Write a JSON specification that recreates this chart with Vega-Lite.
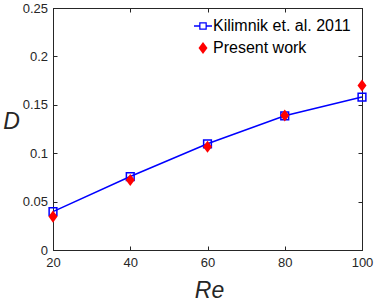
{
  "$schema": "https://vega.github.io/schema/vega-lite/v6.json",
  "autosize": {"type": "none"},
  "padding": {"left": 53, "top": 8, "right": 12, "bottom": 53},
  "width": 309,
  "height": 242,
  "background": "white",
  "data": {
    "values": [
      {"Re": 20, "D": 0.0397, "series": "Kilimnik et. al. 2011"},
      {"Re": 40, "D": 0.0759, "series": "Kilimnik et. al. 2011"},
      {"Re": 60, "D": 0.1097, "series": "Kilimnik et. al. 2011"},
      {"Re": 80, "D": 0.1386, "series": "Kilimnik et. al. 2011"},
      {"Re": 100, "D": 0.158, "series": "Kilimnik et. al. 2011"},
      {"Re": 20, "D": 0.0345, "series": "Present work"},
      {"Re": 40, "D": 0.0724, "series": "Present work"},
      {"Re": 60, "D": 0.1066, "series": "Present work"},
      {"Re": 80, "D": 0.139, "series": "Present work"},
      {"Re": 100, "D": 0.170, "series": "Present work"}
    ]
  },
  "config": {
    "view": {"stroke": "#262626", "strokeWidth": 1},
    "axis": {
      "domainColor": "#262626",
      "domainWidth": 1,
      "tickColor": "#262626",
      "tickWidth": 1,
      "grid": false,
      "labelFlush": false,
      "labelFont": "Liberation Sans",
      "labelFontSize": 13,
      "labelColor": "#262626",
      "titleFont": "Liberation Sans",
      "titleFontSize": 23,
      "titleFontStyle": "italic",
      "titleFontWeight": "normal",
      "titleColor": "#262626"
    }
  },
  "resolve": {"axis": {"x": "independent", "y": "independent"}},
  "layer": [
    {
      "transform": [{"filter": "datum.series === 'Kilimnik et. al. 2011'"}],
      "mark": {"type": "line", "color": "#0000ff", "strokeWidth": 1.5},
      "encoding": {
        "x": {
          "field": "Re", "type": "quantitative",
          "scale": {"domain": [20, 100], "nice": false, "zero": false},
          "axis": {"orient": "bottom", "values": [20, 40, 60, 80, 100], "tickSize": -4, "labelPadding": 10.5, "title": "Re", "titleX": 156, "titleY": 47, "titleBaseline": "alphabetic", "titleAnchor": "middle"}
        },
        "y": {
          "field": "D", "type": "quantitative",
          "scale": {"domain": [0, 0.25], "nice": false},
          "axis": {"orient": "left", "values": [0, 0.05, 0.1, 0.15, 0.2, 0.25], "format": "~g", "tickSize": -4, "labelPadding": 9.5, "title": "D", "titleAngle": 0, "titleX": -42, "titleY": 120, "titleBaseline": "alphabetic", "titleAlign": "center"}
        }
      }
    },
    {
      "transform": [{"filter": "datum.series === 'Kilimnik et. al. 2011'"}],
      "mark": {"type": "point", "shape": "square", "filled": false, "stroke": "#0000ff", "strokeWidth": 1.5, "size": 60, "opacity": 1},
      "encoding": {
        "x": {"field": "Re", "type": "quantitative", "axis": null},
        "y": {"field": "D", "type": "quantitative", "axis": null}
      }
    },
    {
      "transform": [{"filter": "datum.series === 'Present work'"}],
      "mark": {"type": "point", "filled": true, "size": 324, "opacity": 1, "strokeWidth": 0},
      "encoding": {
        "x": {"field": "Re", "type": "quantitative", "axis": null},
        "y": {"field": "D", "type": "quantitative", "axis": null},
        "shape": {
          "field": "series", "type": "nominal",
          "scale": {
            "domain": ["Kilimnik et. al. 2011", "Present work"],
            "range": [
              "M-1,-0.08H-0.42V0.08H-1ZM0.42,-0.08H1V0.08H0.42ZM-0.42,-0.42H0.42V0.42H-0.42ZM-0.28,-0.28V0.28H0.28V-0.28Z",
              "M0,-0.67L0.5,0L0,0.67L-0.5,0Z"
            ]
          },
          "legend": {"orient": "none", "legendX": 141, "legendY": 9, "title": null, "symbolSize": 324, "symbolStrokeWidth": 0, "labelFont": "Liberation Sans", "labelFontSize": 16, "labelColor": "#000000", "labelOffset": 1, "rowPadding": 5, "padding": 0}
        },
        "color": {
          "field": "series", "type": "nominal",
          "scale": {"domain": ["Kilimnik et. al. 2011", "Present work"], "range": ["#0000ff", "#ff0000"]},
          "legend": {"orient": "none", "legendX": 141, "legendY": 9, "title": null, "symbolSize": 324, "symbolStrokeWidth": 0, "labelFont": "Liberation Sans", "labelFontSize": 16, "labelColor": "#000000", "labelOffset": 1, "rowPadding": 5, "padding": 0}
        }
      }
    },
    {
      "transform": [{"filter": "datum.series === 'Kilimnik et. al. 2011'"}],
      "mark": {"type": "point", "opacity": 0},
      "encoding": {
        "x": {"field": "Re", "type": "quantitative", "axis": {"orient": "top", "values": [20, 40, 60, 80, 100], "tickSize": -4, "labels": false, "title": null}},
        "y": {"field": "D", "type": "quantitative", "axis": {"orient": "right", "values": [0, 0.05, 0.1, 0.15, 0.2, 0.25], "tickSize": -4, "labels": false, "title": null}}
      }
    }
  ]
}
